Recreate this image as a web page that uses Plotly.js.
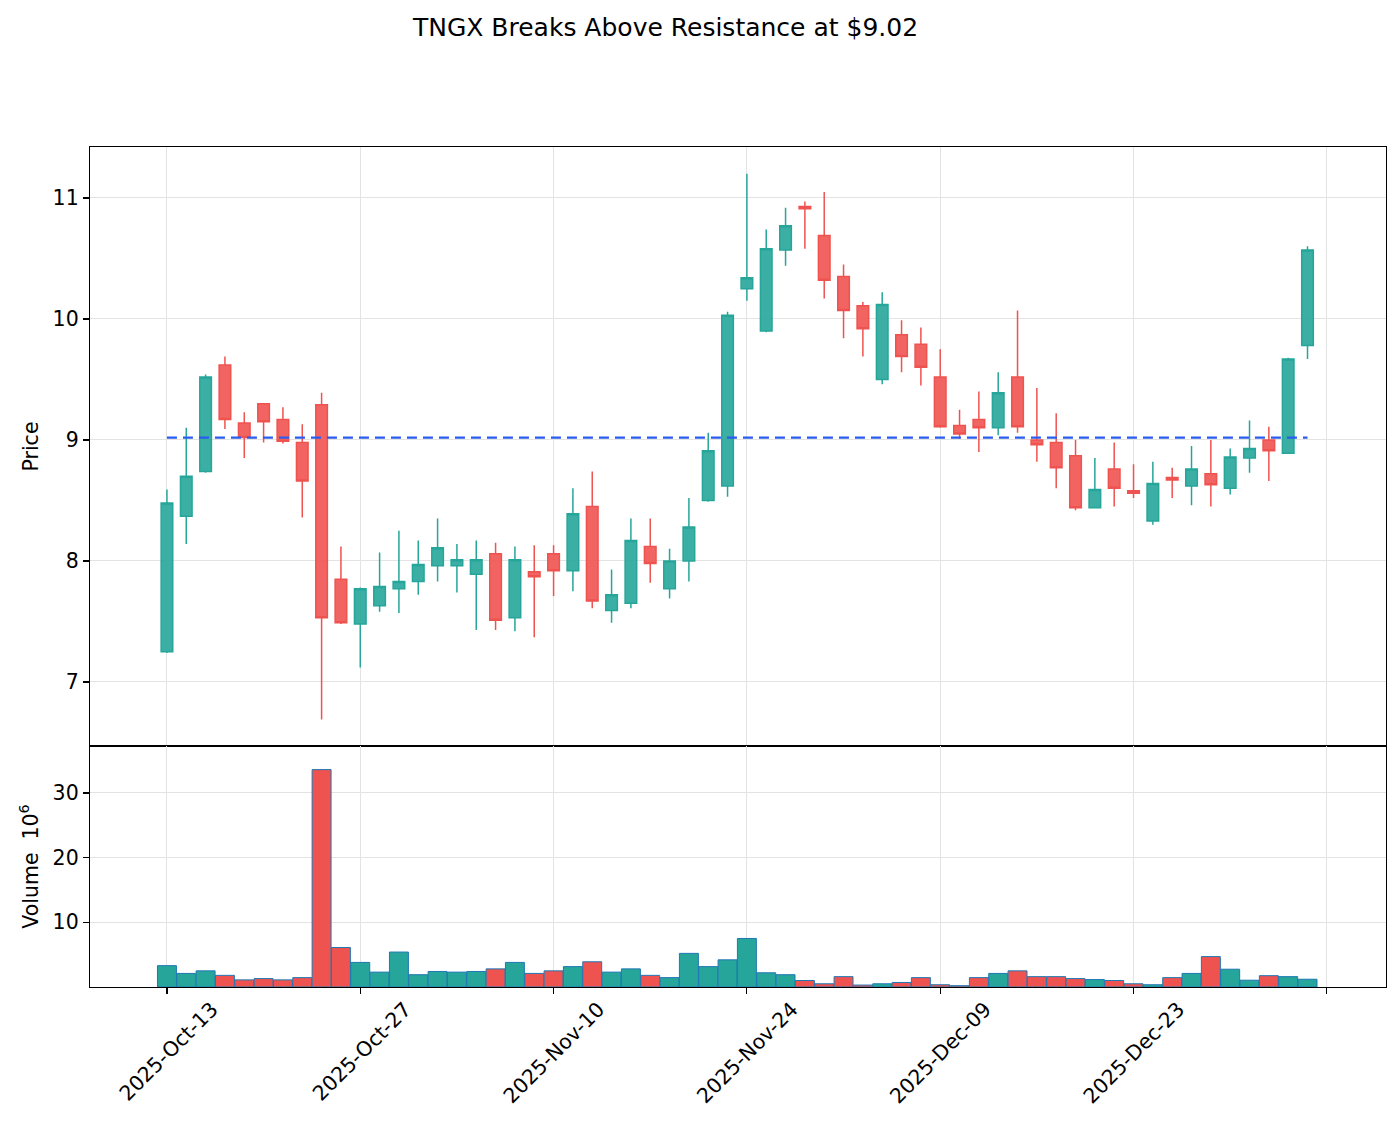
<!DOCTYPE html>
<html>
<head>
<meta charset="utf-8">
<script src="https://cdn.plot.ly/plotly-3.0.1.min.js"></script>
<style>
html,body{margin:0;padding:0;background:#fff;}
#chart{width:1400px;height:1126px;}
</style>
</head>
<body>
<div id="chart"></div>
<script>
// ---- data (trading days, index-based x axis) ----
const dates = [
  "2025-Oct-13","2025-Oct-14","2025-Oct-15","2025-Oct-16","2025-Oct-17",
  "2025-Oct-20","2025-Oct-21","2025-Oct-22","2025-Oct-23","2025-Oct-24",
  "2025-Oct-27","2025-Oct-28","2025-Oct-29","2025-Oct-30","2025-Oct-31",
  "2025-Nov-03","2025-Nov-04","2025-Nov-05","2025-Nov-06","2025-Nov-07",
  "2025-Nov-10","2025-Nov-11","2025-Nov-12","2025-Nov-13","2025-Nov-14",
  "2025-Nov-17","2025-Nov-18","2025-Nov-19","2025-Nov-20","2025-Nov-21",
  "2025-Nov-24","2025-Nov-25","2025-Nov-26","2025-Nov-28","2025-Dec-01",
  "2025-Dec-02","2025-Dec-03","2025-Dec-04","2025-Dec-05","2025-Dec-08",
  "2025-Dec-09","2025-Dec-10","2025-Dec-11","2025-Dec-12","2025-Dec-15",
  "2025-Dec-16","2025-Dec-17","2025-Dec-18","2025-Dec-19","2025-Dec-22",
  "2025-Dec-23","2025-Dec-24","2025-Dec-26","2025-Dec-29","2025-Dec-30",
  "2025-Dec-31","2026-Jan-02","2026-Jan-05","2026-Jan-06","2026-Jan-07"
];
const openP  = [7.25,8.37,8.74,9.62,9.14,9.30,9.17,8.98,9.29,7.85,
                7.48,7.63,7.77,7.83,7.96,7.96,7.89,8.06,7.53,7.91,
                8.06,7.92,8.45,7.59,7.65,8.12,7.77,8.00,8.50,8.62,
                10.25,9.90,10.57,10.93,10.69,10.35,10.11,9.50,9.87,9.79,
                9.52,9.12,9.17,9.10,9.52,9.00,8.98,8.87,8.44,8.76,
                8.58,8.33,8.69,8.62,8.72,8.60,8.85,9.00,8.89,9.78];
const highP  = [8.59,9.10,9.54,9.69,9.23,9.30,9.27,9.13,9.39,8.12,
                7.78,8.07,8.25,8.17,8.35,8.14,8.17,8.15,8.12,8.13,
                8.13,8.60,8.74,7.93,8.35,8.35,8.10,8.52,9.06,10.06,
                11.20,10.74,10.92,10.97,11.05,10.45,10.14,10.22,9.99,9.93,
                9.75,9.25,9.40,9.56,10.07,9.43,9.22,9.00,8.85,8.98,
                8.80,8.82,8.77,8.95,9.00,8.93,9.16,9.11,9.68,10.60];
const lowP   = [7.24,8.14,8.73,9.09,8.85,8.98,8.97,8.36,6.69,7.48,
                7.12,7.58,7.57,7.72,7.83,7.74,7.43,7.43,7.42,7.37,
                7.71,7.75,7.61,7.49,7.61,7.82,7.69,7.83,8.49,8.53,
                10.15,9.89,10.44,10.58,10.17,9.84,9.69,9.46,9.56,9.45,
                9.10,9.01,8.90,9.04,9.06,8.82,8.60,8.42,8.44,8.45,
                8.52,8.30,8.52,8.46,8.45,8.55,8.73,8.66,8.89,9.67];
const closeP = [8.48,8.70,9.52,9.17,9.02,9.15,8.99,8.66,7.53,7.49,
                7.77,7.79,7.83,7.97,8.11,8.01,8.01,7.51,8.01,7.87,
                7.92,8.39,7.67,7.72,8.17,7.98,8.00,8.28,8.91,10.03,
                10.34,10.58,10.77,10.91,10.32,10.07,9.92,10.12,9.69,9.60,
                9.11,9.05,9.10,9.39,9.11,8.96,8.77,8.44,8.59,8.60,
                8.56,8.64,8.67,8.76,8.63,8.86,8.93,8.91,9.67,10.57];
// volume in millions
const volumeM = [3.3,2.1,2.5,1.8,1.1,1.3,1.1,1.45,33.6,6.1,
                 3.8,2.3,5.4,1.9,2.4,2.3,2.4,2.8,3.8,2.1,
                 2.5,3.15,3.9,2.3,2.8,1.8,1.45,5.2,3.15,4.2,
                 7.5,2.2,1.9,1.0,0.5,1.6,0.3,0.5,0.7,1.45,
                 0.35,0.2,1.45,2.1,2.5,1.6,1.6,1.3,1.15,1.0,
                 0.5,0.35,1.45,2.1,4.7,2.75,1.05,1.75,1.6,1.2];
const resistance = 9.02;
const tickIdx = [0,10,20,30,40,50];
const tickLabels = ["2025-Oct-13","2025-Oct-27","2025-Nov-10","2025-Nov-24","2025-Dec-09","2025-Dec-23"];
const extraTickIdx = [60];

// ---- build ----
const UP = '#26a69a', DOWN = '#ef5350';
const idx = dates.map((d,i)=>i);
const volColors = idx.map(i => closeP[i] >= openP[i] ? UP : DOWN);

const candle = {
  type:'candlestick', x: idx, open: openP, high: highP, low: lowP, close: closeP,
  xaxis:'x', yaxis:'y',
  increasing:{line:{color:UP, width:1.5}, fillcolor:'rgba(38,166,154,0.9)'},
  decreasing:{line:{color:DOWN, width:1.5}, fillcolor:'rgba(239,83,80,0.9)'},
  whiskerwidth:0, hoverinfo:'skip', showlegend:false
};
const resLine = {
  type:'scatter', mode:'lines', x:[idx[0], idx[idx.length-1]], y:[resistance, resistance],
  xaxis:'x', yaxis:'y', line:{color:'#2a5cf0', width:2.3, dash:'10px,6px'},
  hoverinfo:'skip', showlegend:false
};
const vol = {
  type:'bar', x: idx, y: volumeM, xaxis:'x2', yaxis:'y2', width:0.98,
  marker:{color: volColors, line:{color:'#1f77b4', width:1}},
  hoverinfo:'skip', showlegend:false
};

const xr = [-3.98, 63.06];
const split = (987-746)/840;
const font = {family:'DejaVu Sans, sans-serif', size:20.5, color:'#000'};
const axCommon = {
  showline:true, linecolor:'#000', linewidth:1.2, mirror:true,
  showgrid:true, gridcolor:'#e3e3e3', gridwidth:1, zeroline:false,
  ticks:'outside', ticklen:6, tickcolor:'#000', tickwidth:1.2,
  tickfont:font
};
const minorX = {tickvals:extraTickIdx, ticks:'outside', ticklen:6, tickcolor:'#000', tickwidth:1.2,
                showgrid:true, gridcolor:'#e3e3e3', gridwidth:1};
const layout = {
  width:1400, height:1126,
  paper_bgcolor:'#fff', plot_bgcolor:'#fff',
  font:font,
  margin:{l:90, r:14, t:147, b:139},
  title:{text:'TNGX Breaks Above Resistance at $9.02', x:665.5/1400, xanchor:'center',
         y:1-27/1126, yanchor:'middle', font:{family:'DejaVu Sans, sans-serif', size:25, color:'#000'}},
  boxgap:0.4, boxgroupgap:0,
  xaxis: Object.assign({}, axCommon, {anchor:'y', domain:[0,1], range:xr, rangeslider:{visible:false},
          tickvals:tickIdx, showticklabels:false, ticks:'',
          minor:Object.assign({}, minorX, {ticks:''})}),
  xaxis2: Object.assign({}, axCommon, {anchor:'y2', domain:[0,1], range:xr, matches:'x',
          tickvals:tickIdx, ticktext:tickLabels, tickangle:-45, ticklabelshift:45, ticklabelstandoff:-5,
          minor:minorX}),
  yaxis: Object.assign({}, axCommon, {anchor:'x', domain:[split,1], range:[6.471, 11.421],
          tickvals:[7,8,9,10,11], title:{text:'Price', font:font, standoff:8}}),
  yaxis2: Object.assign({}, axCommon, {anchor:'x2', domain:[0,split], range:[0, 37.25],
          tickvals:[10,20,30], title:{text:'Volume  10<sup>6</sup>', font:font, standoff:8}})
};

Plotly.newPlot('chart', [candle, resLine, vol], layout, {displayModeBar:false, staticPlot:true});
</script>
</body>
</html>
